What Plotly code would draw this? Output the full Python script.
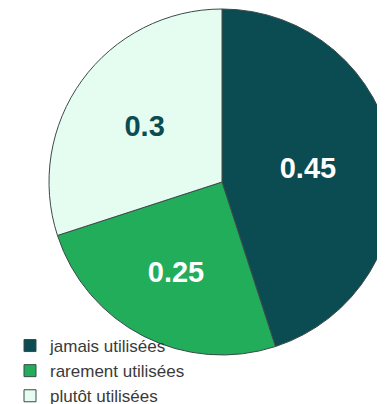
import plotly.graph_objects as go

labels = ["jamais utilisées", "rarement utilisées", "plutôt utilisées"]
values = [0.45, 0.25, 0.3]
colors = ["#0B4B52", "#22AD5B", "#E5FCF1"]
text_colors = ["#FFFFFF", "#FFFFFF", "#0B4B52"]

W, H = 400, 406
cx, cy, r = 214, 174, 173

fig = go.Figure(go.Pie(
    labels=labels,
    values=values,
    sort=False,
    direction="clockwise",
    rotation=0,
    domain=dict(x=[(cx - r) / W, (cx + r) / W], y=[1 - (cy + r) / H, 1 - (cy - r) / H]),
    marker=dict(colors=colors, line=dict(color="#3A4A4A", width=1)),
    texttemplate="<b>%{value}</b>",
    textposition="inside",
    insidetextorientation="horizontal",
    insidetextfont=dict(family="Liberation Sans, Arial, sans-serif", size=29, color=text_colors),
    hoverinfo="label+value",
))

fig.update_layout(
    width=W,
    height=H,
    margin=dict(l=0, r=0, t=0, b=0),
    paper_bgcolor="white",
    plot_bgcolor="white",
    showlegend=True,
    legend=dict(
        x=2 / W, y=0, xanchor="left", yanchor="bottom",
        bgcolor="rgba(0,0,0,0)",
        font=dict(family="Liberation Sans, Arial, sans-serif", size=17, color="#3A3A3A"),
        tracegroupgap=0,
    ),
)

fig.write_html("out.html")
